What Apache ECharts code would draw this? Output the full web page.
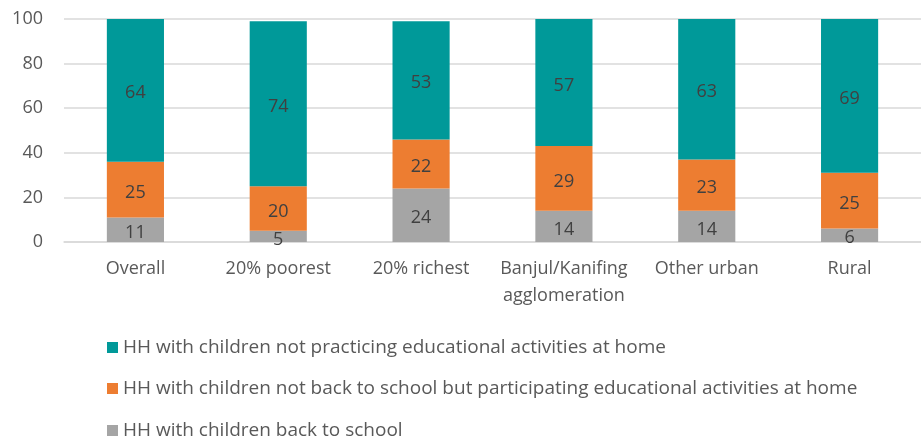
<!DOCTYPE html>
<html>
<head>
<meta charset="utf-8">
<script src="https://cdn.jsdelivr.net/npm/echarts@6/dist/echarts.min.js"></script>
<style>
  html, body { margin: 0; padding: 0; background: #fff; }
  #chart { width: 921px; height: 438px; }
</style>
</head>
<body>
<div id="chart"></div>
<script>
// Household breakdown by group (percent)
const categories = ['Overall', '20% poorest', '20% richest', 'Banjul/Kanifing\nagglomeration', 'Other urban', 'Rural'];
const backToSchool = [11, 5, 24, 14, 14, 6];
const notBackButLearning = [25, 20, 22, 29, 23, 25];
const notPracticing = [64, 74, 53, 57, 63, 69];
const yTicks = [0, 20, 40, 60, 80, 100];

const seriesNames = [
  'HH with children back to school',
  'HH with children not back to school but participating educational activities at home',
  'HH with children not practicing educational activities at home'
];
const colors = ['#A5A5A5', '#ED7D31', '#009999'];
const FONT = 'Open Sans';
const TEXT = '#595959';

const chart = echarts.init(document.getElementById('chart'), null, { renderer: 'canvas' });

function barSeries(name, data, color) {
  return {
    name: name,
    type: 'bar',
    stack: 'total',
    data: data,
    barWidth: '40%',
    itemStyle: { color: color },
    label: {
      show: true,
      position: 'inside',
      offset: [0, 3],
      color: '#404040',
      fontFamily: FONT,
      fontSize: 18
    },
    emphasis: { disabled: true }
  };
}

// One legend block per entry, stacked top to bottom: teal, orange, grey
const legendRows = [
  { name: seriesNames[2], top: 338 },
  { name: seriesNames[1], top: 379 },
  { name: seriesNames[0], top: 421 }
];

chart.setOption({
  animation: false,
  textStyle: { fontFamily: FONT },
  grid: { left: 64, right: -3, top: 19, bottom: 196, containLabel: false },
  xAxis: {
    type: 'category',
    data: categories,
    axisLine: { show: true, lineStyle: { color: '#d9d9d9', width: 1.5 } },
    axisTick: { show: false },
    axisLabel: {
      interval: 0,
      color: TEXT,
      fontFamily: FONT,
      fontSize: 18,
      margin: 13,
      lineHeight: 27
    }
  },
  yAxis: {
    type: 'value',
    min: yTicks[0],
    max: yTicks[yTicks.length - 1],
    interval: yTicks[1] - yTicks[0],
    axisLine: { show: false },
    axisTick: { show: false },
    splitLine: { lineStyle: { color: '#d9d9d9', width: 1.5 } },
    axisLabel: {
      color: TEXT,
      fontFamily: FONT,
      fontSize: 18,
      margin: 21
    }
  },
  legend: legendRows.map(function (row) {
    return {
      orient: 'vertical',
      left: 107,
      top: row.top,
      padding: 0,
      itemWidth: 11,
      itemHeight: 11,
      icon: 'rect',
      selectedMode: false,
      data: [row.name],
      textStyle: { color: TEXT, fontFamily: FONT, fontSize: 19 }
    };
  }),
  series: [
    barSeries(seriesNames[0], backToSchool, colors[0]),
    barSeries(seriesNames[1], notBackButLearning, colors[1]),
    barSeries(seriesNames[2], notPracticing, colors[2])
  ]
});
</script>
</body>
</html>
